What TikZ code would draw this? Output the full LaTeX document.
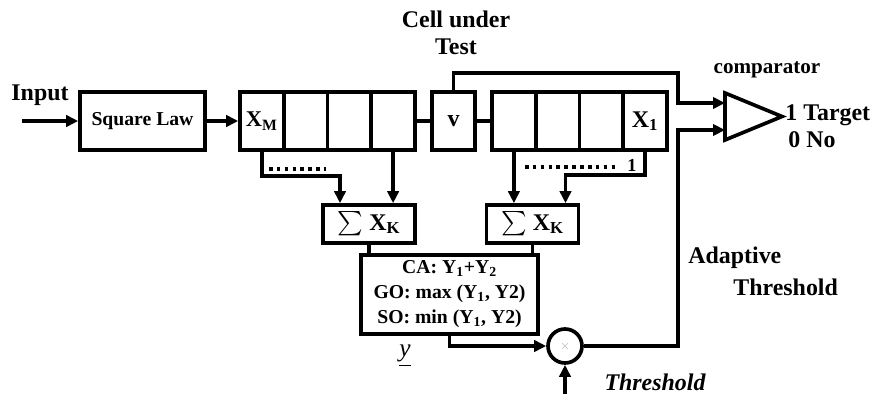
\documentclass[tikz,border=0pt]{standalone}
\usepackage{exscale}
\usepackage{fontspec}
\setmainfont{Liberation Serif}
\usetikzlibrary{positioning,arrows.meta,calc}

\begin{document}
\begin{tikzpicture}[x=0.025cm, y=-0.025cm, line width=2.4pt,
    every node/.style={font=\bfseries\fontsize{17}{19.5}\selectfont}]
  \tikzset{
    blk/.style={draw, line width=2.6pt, minimum height=1.45cm, inner sep=0pt},
    cell/.style={blk, minimum width=1.094cm},
    sumbox/.style={draw, line width=2.6pt, minimum width=2.3cm, minimum height=0.95cm, inner sep=0pt},
    arr/.style={-{Triangle[length=8.5pt,width=8pt]}},
    dots/.style={line width=2.6pt, dash pattern=on 2.6pt off 3pt}
  }
  \useasboundingbox (0,0) rectangle (880,394);

  \node[blk, minimum width=3.125cm, font=\bfseries\fontsize{14}{16}\selectfont] (sq) at (142.5,121) {Square Law};
  \node[cell, font=\bfseries\fontsize{16}{19}\selectfont] (xm) at (261.9,121) {X\textsubscript{M}};
  \node[cell] (l2) at (305.6,121) {};
  \node[cell] (l3) at (349.4,121) {};
  \node[cell] (l4) at (393.1,121) {};
  \node[cell, minimum width=1.075cm] (v) at (453.5,121) {v};
  \node[cell] (r1) at (513.9,121) {};
  \node[cell] (r2) at (557.6,121) {};
  \node[cell] (r3) at (601.4,121) {};
  \node[cell] (x1) at (645.1,121) {X\textsubscript{1}};

  \node[sumbox] (sumL) at (369,224) {{\fontsize{19}{19}\selectfont$\sum$} X\textsubscript{K}};
  \node[sumbox] (sumR) at (532.5,224) {{\fontsize{19}{19}\selectfont$\sum$} X\textsubscript{K}};
  \node[draw, line width=2.6pt, minimum width=4.425cm, minimum height=1.975cm, align=center,
    font=\bfseries\fontsize{14}{17.8}\selectfont] (ca) at (449.5,294.5)
    {CA: Y\textsubscript{1}+Y\textsubscript{2}\\GO: max (Y\textsubscript{1}, Y2)\\SO: min (Y\textsubscript{1}, Y2)};
  \node[draw, circle, line width=2.6pt, minimum size=0.85cm, inner sep=0pt] (mult) at (565,346) {};
  \draw[gray!50, line width=0.4pt] ($(mult)+(-3,-3)$) -- ($(mult)+(3,3)$) ($(mult)+(-3,3)$) -- ($(mult)+(3,-3)$);

  % comparator
  \coordinate (cmpA) at (725,103);
  \coordinate (cmpB) at (725,130);
  \coordinate (cmpO) at (782,116.5);
  \draw[line width=2.6pt] (725,93) -- (cmpO) -- (725,140) -- cycle;

  % signal path
  \coordinate (inp) at (22,121);
  \draw[arr] (inp) -- (sq.west);
  \draw[arr] (sq.east) -- (xm.west);
  \draw (l4.east) -- (v.west);
  \draw (v.east) -- (r1.west);
  \coordinate (tapT) at (678,73);
  \draw[arr] (v.north) |- (tapT) |- (cmpA);
  \coordinate (tapB) at (678,130);
  \draw[arr] (mult.east) -| (tapB) -- (cmpB);

  % window sums
  \draw[arr] (xm.south) |- ($(sumL.north)+(-29,-27)$) -- ($(sumL.north)+(-29,0)$);
  \draw[arr] (l4.south) -- (l4.south |- sumL.north);
  \draw[arr] (r1.south) -- (r1.south |- sumR.north);
  \draw[arr] (x1.south) |- ($(sumR.north)+(33,-28)$) -- ($(sumR.north)+(33,0)$);
  \draw[dots] ($(xm.south)+(7,17)$) -- ++(57,0);
  \draw[dots] ($(r1.south)+(11,15)$) -- ++(90,0);
  \node[font=\bfseries\fontsize{13}{14}\selectfont] (one) at (632,165) {1};
  \draw (sumL.south) -- (sumL.south |- ca.north);
  \draw (sumR.south) -- (sumR.south |- ca.north);
  \draw[arr] (ca.south) |- (mult.west);
  \coordinate (thrIn) at (565,394);
  \draw[arr] (thrIn) -- (mult.south);

  % labels
  \node (input) at (40,95) {Input};
  \node[align=center] (cut) at (456,33) {Cell under\\Test};
  \node[font=\bfseries\fontsize{15}{19}\selectfont] (cmp) at (767,70) {comparator};
  \node[anchor=west] (tgt) at (779,115) {1 Target};
  \node[anchor=west] (no) at (782,140) {0 No};
  \node[anchor=west] (adp) at (682,258) {Adaptive};
  \node[anchor=west] (adt) at (727,287) {Threshold};
  \node[font=\bfseries\itshape\fontsize{17}{19}\selectfont] (thr) at (655,382) {Threshold};
  \node[font=\itshape\fontsize{18}{19}\selectfont] (yv) at (405,356) {\underline{y}};
\end{tikzpicture}
\end{document}
